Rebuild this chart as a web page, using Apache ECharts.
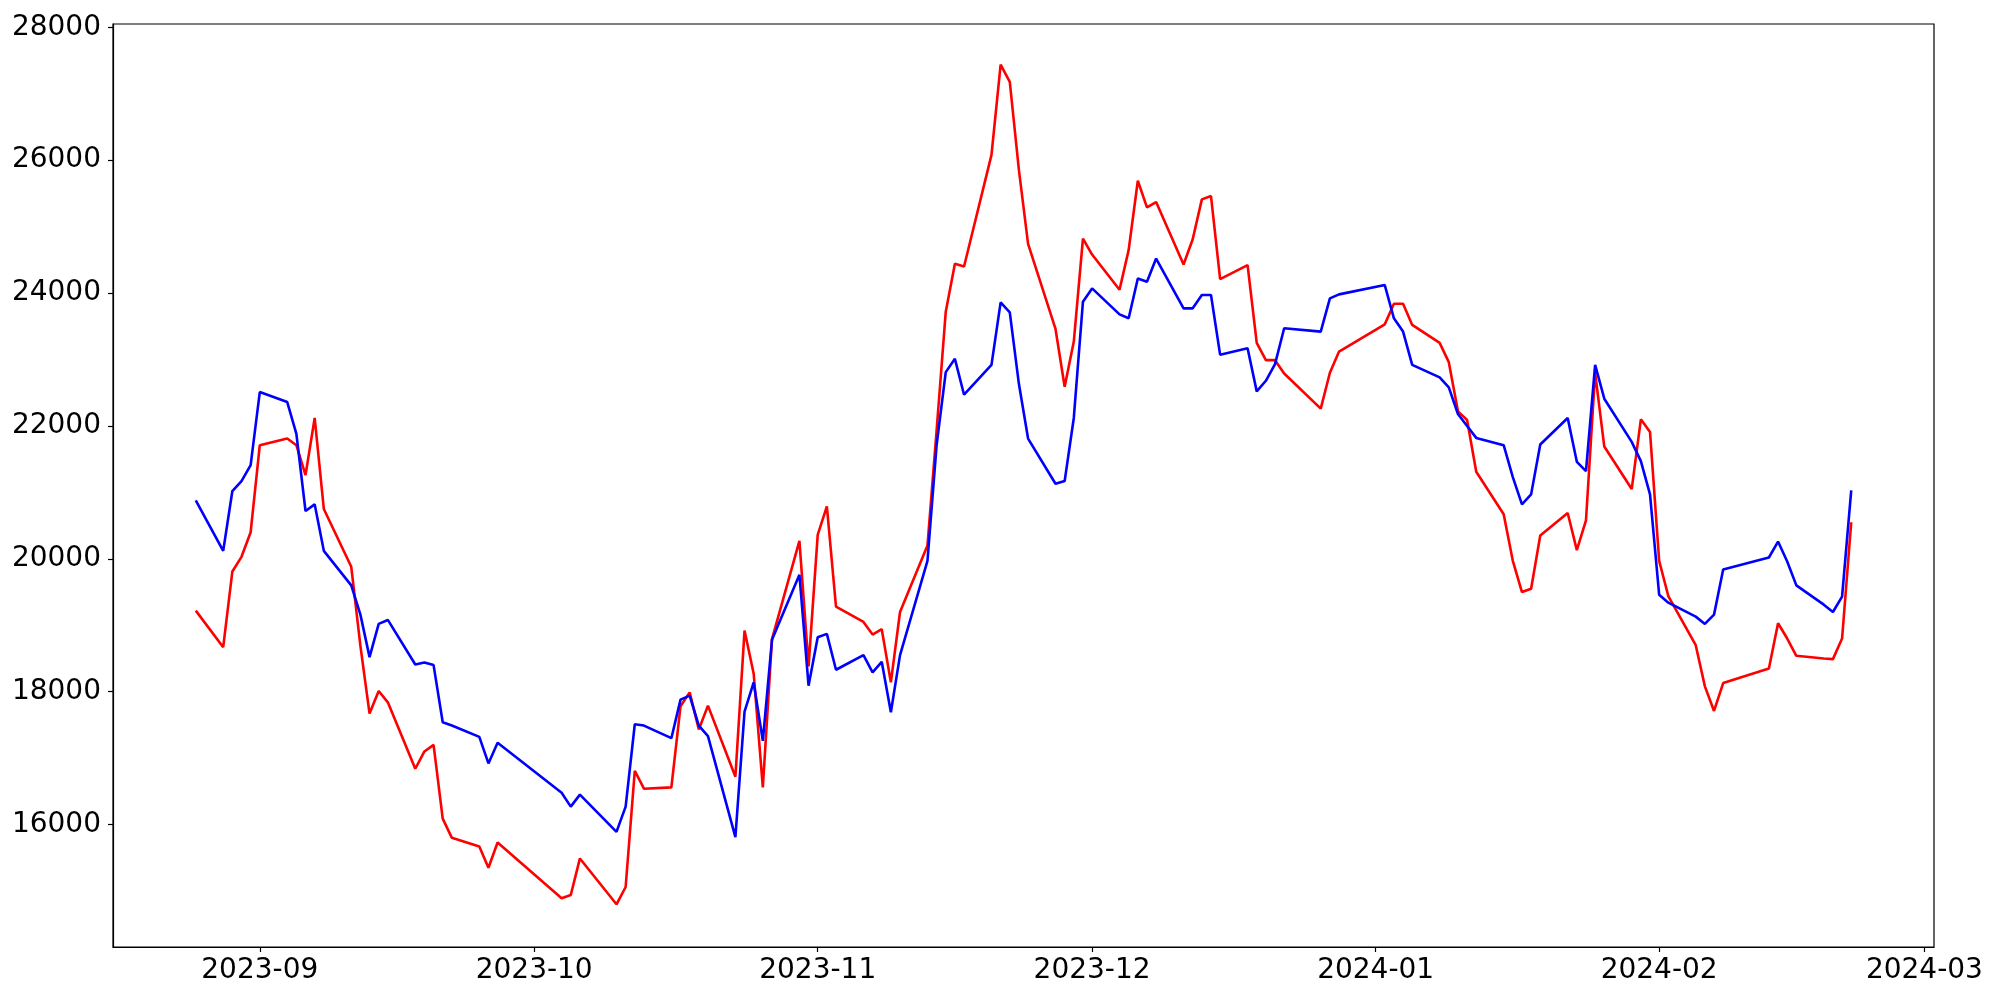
<!DOCTYPE html>
<html>
<head>
<meta charset="utf-8">
<script src="https://cdn.jsdelivr.net/npm/echarts@6/dist/echarts.min.js"></script>
<style>
html,body{margin:0;padding:0;background:#ffffff;}
#chart{width:2000px;height:1000px;}
</style>
</head>
<body>
<div id="chart"></div>
<script>
// Trading days
const dates = [
'2023-08-25','2023-08-28','2023-08-29','2023-08-30','2023-08-31',
'2023-09-01','2023-09-04','2023-09-05','2023-09-06','2023-09-07','2023-09-08',
'2023-09-11','2023-09-12','2023-09-13','2023-09-14','2023-09-15',
'2023-09-18','2023-09-19','2023-09-20','2023-09-21','2023-09-22',
'2023-09-25','2023-09-26','2023-09-27',
'2023-10-04','2023-10-05','2023-10-06',
'2023-10-10','2023-10-11','2023-10-12','2023-10-13',
'2023-10-16','2023-10-17','2023-10-18','2023-10-19','2023-10-20',
'2023-10-23','2023-10-24','2023-10-25','2023-10-26','2023-10-27',
'2023-10-30','2023-10-31','2023-11-01','2023-11-02','2023-11-03',
'2023-11-06','2023-11-07','2023-11-08','2023-11-09','2023-11-10',
'2023-11-13','2023-11-14','2023-11-15','2023-11-16','2023-11-17',
'2023-11-20','2023-11-21','2023-11-22','2023-11-23','2023-11-24',
'2023-11-27','2023-11-28','2023-11-29','2023-11-30','2023-12-01',
'2023-12-04','2023-12-05','2023-12-06','2023-12-07','2023-12-08',
'2023-12-11','2023-12-12','2023-12-13','2023-12-14','2023-12-15',
'2023-12-18','2023-12-19','2023-12-20','2023-12-21','2023-12-22',
'2023-12-26','2023-12-27','2023-12-28',
'2024-01-02','2024-01-03','2024-01-04','2024-01-05',
'2024-01-08','2024-01-09','2024-01-10','2024-01-11','2024-01-12',
'2024-01-15','2024-01-16','2024-01-17','2024-01-18','2024-01-19',
'2024-01-22','2024-01-23','2024-01-24','2024-01-25','2024-01-26',
'2024-01-29','2024-01-30','2024-01-31','2024-02-01','2024-02-02',
'2024-02-05','2024-02-06','2024-02-07','2024-02-08',
'2024-02-13','2024-02-14','2024-02-15','2024-02-16',
'2024-02-19','2024-02-20','2024-02-21','2024-02-22'
];

const blueValues = [
20880,20120,21020,21170,21410,
22510,22360,21880,20720,20820,20120,
19600,19160,18520,19020,19080,
18410,18440,18400,17540,17490,
17320,16920,17230,
16480,16270,16450,
15890,16270,17510,17490,
17300,17880,17940,17490,17330,
15810,17700,18140,17260,18780,
19760,18090,18820,18870,18330,
18550,18290,18450,17690,18550,
19970,21710,22810,23010,22470,
22920,23860,23710,22630,21810,
21130,21170,22120,23870,24070,
23680,23620,24220,24170,24520,
23770,23770,23970,23970,23070,
23170,22520,22680,22930,23470,
23420,23920,23980,
24120,23620,23420,22920,
22730,22580,22180,22000,21820,
21710,21230,20820,20970,21720,
22120,21460,21320,22920,22410,
21760,21470,20970,19460,19340,
19130,19020,19160,19840,
20020,20260,19960,19600,
19310,19200,19430,21030
];

const redValues = [
19220,18670,19810,20030,20400,
21710,21810,21710,21260,22120,20750,
19880,18690,17670,18010,17840,
16840,17100,17200,16090,15800,
15670,15350,15730,
14890,14940,15490,
14800,15060,16810,16540,
16560,17780,17990,17430,17790,
16720,18920,18270,16560,18790,
20270,18380,20360,20790,19280,
19050,18860,18940,18140,19200,
20200,21930,23720,24440,24400,
26080,27440,27180,25850,24740,
23460,22590,23270,24820,24580,
24050,24650,25690,25290,25370,
24430,24810,25410,25460,24210,
24420,23250,22990,22990,22790,
22260,22800,23120,
23530,23840,23840,23520,
23250,22960,22220,22090,21310,
20670,19970,19500,19550,20350,
20690,20130,20580,22800,21690,
21050,22100,21910,19970,19440,
18700,18080,17710,18130,
18350,19030,18800,18540,
18500,18490,18800,20550
];

const yTickValues = [16000,18000,20000,22000,24000,26000,28000];
const xTickLabels = ['2023-09','2023-10','2023-11','2023-12','2024-01','2024-02','2024-03'];

function toTs(s){ return Date.parse(s + 'T00:00:00Z'); }
const xTickValues = xTickLabels.map(function(m){ return toTs(m + '-01'); });
const blueData = dates.map(function(d,i){ return [toTs(d), blueValues[i]]; });
const redData = dates.map(function(d,i){ return [toTs(d), redValues[i]]; });

const t0 = toTs(dates[0]);
const t1 = toTs(dates[dates.length-1]);
const span = t1 - t0;

function fmt(v){
  const d = new Date(v);
  const m = d.getUTCMonth() + 1;
  return d.getUTCFullYear() + '-' + (m < 10 ? '0' + m : '' + m);
}

const chart = echarts.init(document.getElementById('chart'), null, {renderer:'canvas'});
const font = {fontFamily:'DejaVu Sans', fontSize:28, color:'#000000'};
chart.setOption({
  animation:false,
  backgroundColor:'#ffffff',
  grid:{left:113, right:66, top:24, bottom:53, show:true, borderColor:'#000000', borderWidth:1.2, containLabel:false},
  xAxis:{
    type:'value',
    min:t0 - 0.05*span,
    max:t1 + 0.05*span,
    splitLine:{show:false},
    axisLine:{show:true, onZero:false, lineStyle:{color:'#000000', width:1.2}},
    axisTick:{show:true, inside:false, length:5, lineStyle:{color:'#000000', width:1.2}, customValues:xTickValues},
    axisLabel:Object.assign({margin:10, customValues:xTickValues, formatter:fmt}, font)
  },
  yAxis:{
    type:'value',
    min:14157,
    max:28050,
    splitLine:{show:false},
    axisLine:{show:true, onZero:false, lineStyle:{color:'#000000', width:1.2}},
    axisTick:{show:true, inside:false, length:5, lineStyle:{color:'#000000', width:1.2}, customValues:yTickValues},
    axisLabel:Object.assign({margin:12, customValues:yTickValues, formatter:function(v){ return String(Math.round(v)); }}, font)
  },
  series:[
    {type:'line', data:redData, showSymbol:false, symbol:'none', lineStyle:{color:'#ff0000', width:2.6}, itemStyle:{color:'#ff0000'}, z:2},
    {type:'line', data:blueData, showSymbol:false, symbol:'none', lineStyle:{color:'#0000ff', width:2.6}, itemStyle:{color:'#0000ff'}, z:3}
  ]
});
</script>
</body>
</html>
